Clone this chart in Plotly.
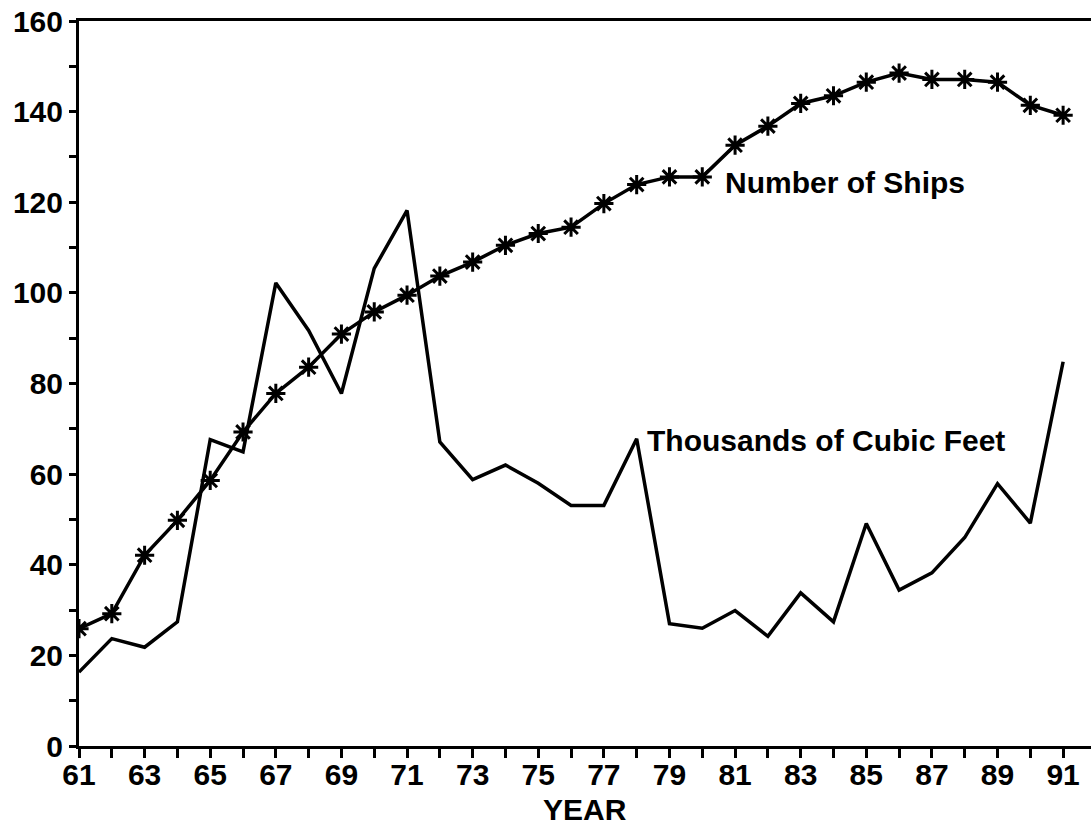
import plotly.graph_objects as go

years = list(range(61, 92))
ships = [25.9, 29.2, 42.1, 49.8, 58.6, 69.3, 77.8, 83.6, 90.9, 95.8, 99.5,
         103.7, 106.8, 110.5, 113.1, 114.5, 119.7, 123.9, 125.6, 125.6, 132.6,
         136.8, 141.8, 143.5, 146.5, 148.5, 147.1, 147.1, 146.5, 141.4, 139.2]
cubic_feet = [16.3, 23.7, 21.8, 27.4, 67.6, 64.9, 102.2, 91.7, 77.8, 105.4, 118.2,
              67.1, 58.8, 62.0, 58.0, 53.1, 53.1, 67.8, 27.0, 26.0, 29.9,
              24.2, 33.8, 27.4, 49.1, 34.4, 38.2, 46.0, 57.9, 49.2, 84.8]
x_tick_vals = years
x_tick_text = [str(y) if y % 2 == 1 else "" for y in years]
y_tick_vals = [0, 20, 40, 60, 80, 100, 120, 140, 160]

FONT = "Liberation Sans"

fig = go.Figure()
fig.add_trace(go.Scatter(
    x=years, y=cubic_feet, mode="lines",
    line=dict(color="black", width=3.5),
    name="Thousands of Cubic Feet", showlegend=False))
fig.add_trace(go.Scatter(
    x=years, y=ships, mode="lines+markers",
    line=dict(color="black", width=3.5),
    marker=dict(symbol="asterisk-open", size=16, color="black",
                line=dict(color="black", width=3)),
    name="Number of Ships", showlegend=False))

fig.add_annotation(x=80.63, y=124.4, text="Number of Ships", showarrow=False,
                   xanchor="left", yanchor="middle",
                   font=dict(family=FONT, size=30, color="black", weight="bold"))
fig.add_annotation(x=78.26, y=67.5, text="Thousands of Cubic Feet", showarrow=False,
                   xanchor="left", yanchor="middle",
                   font=dict(family=FONT, size=30, color="black", weight="bold"))
fig.add_annotation(x=0.5, y=0, xref="paper", yref="paper", text="YEAR",
                   showarrow=False, xanchor="center", yanchor="middle", yshift=-63,
                   borderpad=0,
                   font=dict(family=FONT, size=30, color="black", weight="bold"))

fig.update_layout(
    width=1091, height=827,
    margin=dict(l=79, r=0, t=21, b=81),
    paper_bgcolor="white", plot_bgcolor="white",
    font=dict(family=FONT, color="black"),
    xaxis=dict(
        range=[61, 91.85], showgrid=False, zeroline=False, automargin=False,
        showline=True, linecolor="black", linewidth=3, mirror=True,
        ticks="outside", ticklen=9, tickwidth=2.5, tickcolor="black",
        ticklabelstandoff=-9,
        tickvals=x_tick_vals, ticktext=x_tick_text,
        tickfont=dict(family=FONT, size=30, color="black", weight="bold"),
    ),
    yaxis=dict(
        range=[0, 160], showgrid=False, zeroline=False, automargin=False,
        showline=True, linecolor="black", linewidth=3,
        ticks="outside", ticklen=7, tickwidth=2.5, tickcolor="black",
        tickvals=y_tick_vals,
        minor=dict(tickvals=[10, 30, 50, 70, 90, 110, 130, 150], ticks="outside",
                   ticklen=7, tickwidth=2.5, tickcolor="black", showgrid=False),
        tickfont=dict(family=FONT, size=30, color="black", weight="bold"),
    ),
)

fig.write_html("out.html", config={"displayModeBar": False},
               post_script="document.body.style.margin='0';")
